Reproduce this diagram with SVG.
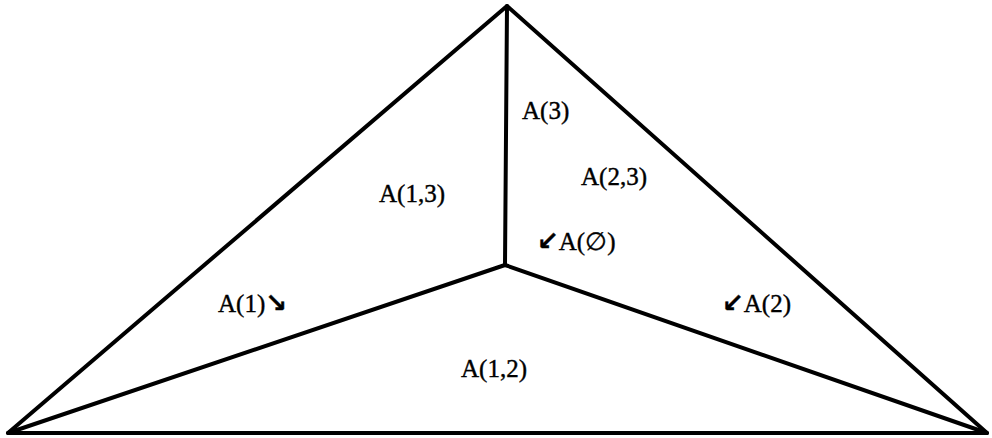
<svg xmlns="http://www.w3.org/2000/svg" width="992" height="438" viewBox="0 0 992 438">
<style>
.e{stroke:#000;stroke-width:4;fill:none;stroke-linecap:round;stroke-linejoin:round}
.t{font-family:"Liberation Serif","DejaVu Serif",serif;font-size:25px;fill:#000;stroke:#000;stroke-width:0.4}
.a{font-family:"DejaVu Sans",sans-serif;font-size:26px;font-weight:bold}
</style>
<rect width="992" height="438" fill="#fff"/>
<g id="connectors">
<polygon class="e" points="507,6 8,433 987,433"/>
<line class="e" x1="507" y1="6" x2="505" y2="265"/>
<line class="e" x1="8" y1="433" x2="505" y2="265"/>
<line class="e" x1="987" y1="433" x2="505" y2="265"/>
</g>
<g id="A3"><text class="t" x="522" y="119">A(3)</text></g>
<g id="A13"><text class="t" x="379" y="202">A(1,3)</text></g>
<g id="A23"><text class="t" x="581" y="185">A(2,3)</text></g>
<g id="A0"><text class="t" x="537" y="250"><tspan class="a">↙</tspan>A(∅)</text></g>
<g id="A1"><text class="t" x="218" y="312">A(1)<tspan class="a">↘</tspan></text></g>
<g id="A2"><text class="t" x="722" y="312"><tspan class="a">↙</tspan>A(2)</text></g>
<g id="A12"><text class="t" x="461" y="377">A(1,2)</text></g>
</svg>
